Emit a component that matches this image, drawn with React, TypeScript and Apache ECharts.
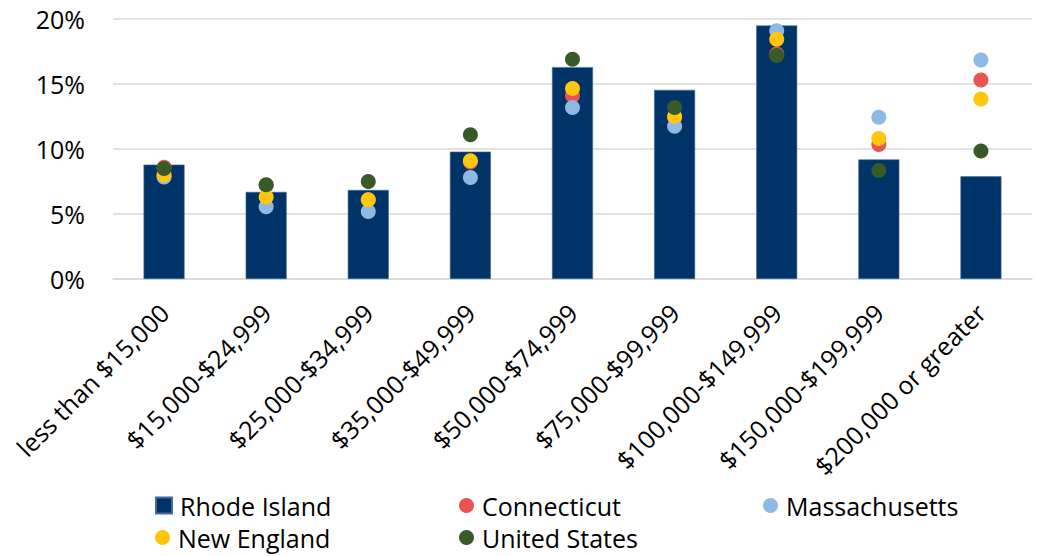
import React, { useEffect, useRef } from "react";
import * as echarts from "echarts";

const categories = [
  "less than $15,000",
  "$15,000-$24,999",
  "$25,000-$34,999",
  "$35,000-$49,999",
  "$50,000-$74,999",
  "$75,000-$99,999",
  "$100,000-$149,999",
  "$150,000-$199,999",
  "$200,000 or greater",
];

// Share of households by income bracket (%)
const rhodeIsland = [8.8, 6.7, 6.85, 9.8, 16.3, 14.55, 19.5, 9.2, 7.9];
const connecticut = [8.6, 7.2, 6.1, 9.0, 14.1, 12.4, 17.3, 10.35, 15.3];
const massachusetts = [7.85, 5.55, 5.2, 7.8, 13.2, 11.75, 19.1, 12.45, 16.85];
const newEngland = [8.0, 6.3, 6.1, 9.1, 14.65, 12.5, 18.45, 10.8, 13.85];
const unitedStates = [8.5, 7.25, 7.5, 11.1, 16.9, 13.2, 17.2, 8.35, 9.85];

const yTicks = [0, 5, 10, 15, 20];

const FONT = "'Open Sans', 'Noto Sans', sans-serif";
const FONT_SIZE = 25;
const COLORS = {
  ri: "#003469",
  ct: "#E85454",
  ma: "#8DB9E4",
  ne: "#FFC60B",
  us: "#375A27",
};

const legendText = {
  fontFamily: FONT,
  fontSize: FONT_SIZE,
  color: "#000",
  padding: [0, 0, 0, 3],
};

function legendItem(name: string, left: number, top: number, icon: string, w: number) {
  return {
    show: true,
    data: [name],
    left,
    top,
    orient: "horizontal",
    icon,
    itemWidth: w,
    itemHeight: w,
    itemGap: 0,
    textStyle: legendText,
    padding: 0,
    selectedMode: false,
  };
}

export default function App() {
  const ref = useRef<HTMLDivElement>(null);

  useEffect(() => {
    if (!ref.current) return;
    const chart = echarts.init(ref.current, undefined, { renderer: "svg" });

    const dot = (name: string, data: number[], color: string) => ({
      name,
      type: "scatter",
      data,
      symbol: "circle",
      symbolSize: 15,
      itemStyle: { color, opacity: 1 },
      z: 3,
    });

    chart.setOption({
      animation: false,
      backgroundColor: "#fff",
      grid: { left: 113, right: 6, top: 19, bottom: 277 },
      xAxis: {
        type: "category",
        data: categories,
        axisLine: { show: true, lineStyle: { color: "#d9d9d9", width: 1.5 } },
        axisTick: { show: false },
        axisLabel: {
          interval: 0,
          rotate: 45,
          margin: 29,
          fontFamily: FONT,
          fontSize: FONT_SIZE,
          color: "#000",
        },
      },
      yAxis: {
        type: "value",
        min: yTicks[0],
        max: yTicks[yTicks.length - 1],
        interval: 5,
        axisLine: { show: false },
        axisTick: { show: false },
        splitLine: { lineStyle: { color: "#d9d9d9", width: 1.5 } },
        axisLabel: {
          formatter: "{value}%",
          margin: 28,
          fontFamily: FONT,
          fontSize: FONT_SIZE,
          color: "#000",
        },
      },
      legend: [
        legendItem("Rhode Island", 155, 493, "rect", 16),
        legendItem("Connecticut", 459, 493, "circle", 15),
        legendItem("Massachusetts", 763, 493, "circle", 15),
        legendItem("New England", 155, 525, "circle", 15),
        legendItem("United States", 459, 525, "circle", 15),
      ],
      series: [
        {
          name: "Rhode Island",
          type: "bar",
          data: rhodeIsland,
          barWidth: 41,
          itemStyle: { color: COLORS.ri, borderColor: "#4a6a94", borderWidth: 0.6 },
          z: 2,
        },
        dot("Connecticut", connecticut, COLORS.ct),
        dot("Massachusetts", massachusetts, COLORS.ma),
        dot("New England", newEngland, COLORS.ne),
        dot("United States", unitedStates, COLORS.us),
      ],
    });

    return () => chart.dispose();
  }, []);

  return (
    <div
      ref={ref}
      style={{ width: 1038, height: 556, position: "absolute", left: 0, top: 0 }}
    />
  );
}
